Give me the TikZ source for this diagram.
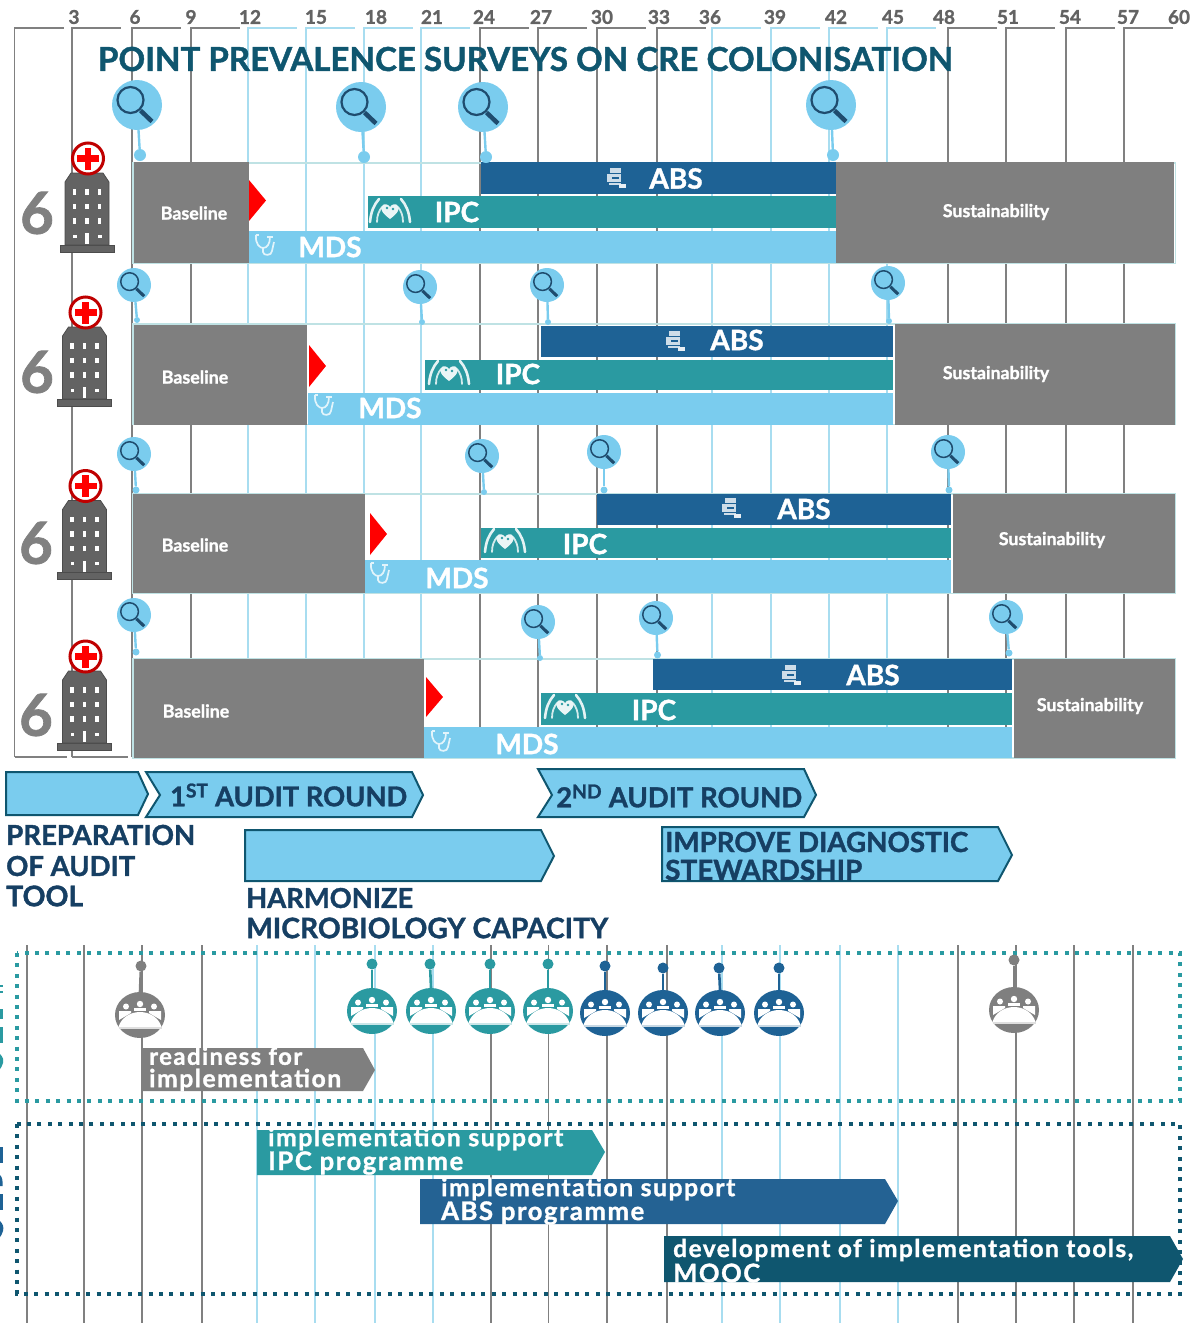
\documentclass[tikz,border=0pt]{standalone}
\usepackage{fontspec}
\usepackage{graphicx}
\setmainfont{Lato}[BoldFeatures={FakeBold=1.3}]
\newfontfamily\spaced{Lato}[LetterSpace=6,BoldFeatures={FakeBold=1.2}]
\usetikzlibrary{shapes.geometric}
\definecolor{lb}{HTML}{7ACCEE}
\definecolor{tl}{HTML}{2A9AA1}
\definecolor{nv}{HTML}{1E6295}
\definecolor{nv2}{HTML}{246293}
\definecolor{gy}{HTML}{7F7F7F}
\definecolor{dt}{HTML}{0F566F}
\definecolor{ink}{HTML}{163F63}
\definecolor{gl}{HTML}{A8DDF0}
\definecolor{gd}{HTML}{808080}
\definecolor{fr}{HTML}{BFE2E4}
\definecolor{bld}{HTML}{636363}
\definecolor{mg}{HTML}{1F4C6E}
\newcommand\fw[2]{\resizebox{#1pt}{!}{#2}}
\newcommand\mybar[5]{\fill[#5] (#1,#2) rectangle (#3,#4);}
\newcommand\tri[3]{\fill[red] (#1,#2) -- (#1+17,{(#2+#3)/2}) -- (#1,#3) -- cycle;}
\newcommand\hosp[2]{% bottom-centre of building
  \begin{scope}[shift={(#1,#2)}]
    \fill[bld,draw=black!70,line width=.8pt] (-27,-7) rectangle (27,0);
    \fill[bld,draw=black!70,line width=.8pt] (-22,-7) -- (-22,-70) -- (-16,-79) -- (16,-79) -- (22,-70) -- (22,-7) -- cycle;
    \foreach \wx in {-12.5,0,12.5}{\foreach \wy in {-60,-45.5,-31}{\fill[white] (\wx-1.9,\wy-2.8) rectangle (\wx+1.9,\wy+2.8);}}
    \fill[white] (-14,-17.5) rectangle (-10.5,-14.5);
    \fill[white] (10.5,-17.5) rectangle (14.5,-14.5);
    \fill[white] (-1.8,-19) rectangle (1.8,-8);
    \draw[red!75!black,fill=white,line width=3pt] (1,-93.5) circle (15.5);
    \fill[red] (-2.2,-104.5) rectangle (4.2,-82.5);
    \fill[red] (-10,-96.7) rectangle (12,-90.3);
  \end{scope}
}
\newcommand\pill[2]{%
  \begin{scope}[shift={(#1,#2)}]
    \fill[white!78!nv] (-6,-10) rectangle (5,-5);
    \fill[white!78!nv] (-9,-4) rectangle (5,4);
    \fill[white!78!nv] (-7,5) rectangle (5,7);
    \fill[white!90!nv] (3,6) rectangle (10,10);
    \fill[nv] (-4,-1) rectangle (3,1);
  \end{scope}
}
\newcommand\hands[2]{%
  \begin{scope}[shift={(#1,#2)}]
    \draw[white!88!tl,line width=2.6pt,line cap=round] (-20,11) .. controls (-19,0) and (-16,-6) .. (-11,-12);
    \draw[white!88!tl,line width=2.6pt,line cap=round] (20,11) .. controls (19,0) and (16,-6) .. (11,-12);
    \draw[white!80!tl,line width=1.8pt,line cap=round] (-13,11) .. controls (-13,4) and (-11,0) .. (-8,-4);
    \draw[white!80!tl,line width=1.8pt,line cap=round] (13,11) .. controls (13,4) and (11,0) .. (8,-4);
    \fill[white!90!tl] (0,8) .. controls (-8,2) and (-10,-2) .. (-8,-5) .. controls (-6,-8) and (-2,-7) .. (0,-4) .. controls (2,-7) and (6,-8) .. (8,-5) .. controls (10,-2) and (8,2) .. (0,8) -- cycle;
    \fill[tl] (-3,-3) circle (1.3);\fill[tl] (3,-2) circle (1.3);
  \end{scope}
}
\newcommand\steth[2]{%
  \begin{scope}[shift={(#1,#2)}]
    \draw[white!78!lb,line width=1.7pt] (-10,-10) .. controls (-11,-1) and (-6,3) .. (-3,3) .. controls (1,3) and (4,-1) .. (4,-8);
    \draw[white!78!lb,line width=1.7pt] (-3,3) -- (-3,7) .. controls (-3,11) and (6,11) .. (6,6) -- (8,-3);
    \draw[white!78!lb,line width=1.7pt] (-10,-10) -- (-7,-10) (1,-8) -- (7,-8);
  \end{scope}
}
\newcommand\peo[6]{% name, x, y, colour, dot name, dot x/y
  \node[pcirc,fill=#4] (#1) at (#2,#3) {};
  \begin{scope}[shift={(#2,#3)}]
    \fill[white] (-21.5,12) .. controls (-19,3) and (-10,-3) .. (0,-3) .. controls (10,-3) and (19,3) .. (21.5,12) -- cycle;
    \fill[#4!25!white] (-21.5,12) rectangle (21.5,13.5);
    \fill[white] (-6,-7.5) rectangle (6,-4.5);
    \fill[white] (-21,-4) -- (-9,-4) -- (-9,-2) -- (-21,5) -- cycle;
    \fill[white] (21,-4) -- (9,-4) -- (9,-2) -- (21,5) -- cycle;
    \fill[white] (0,-11) circle (3.2);
    \fill[white] (-14,-8.5) circle (3);
    \fill[white] (14,-8.5) circle (3);
  \end{scope}
  \node[pdot,fill=#4] (#5) at (#6) {};
  \draw[#4,line width=2.6pt] (#5) -- (#1.north);
}
\tikzset{
  x=1pt,y=-1pt,
  magc/.style={circle,fill=lb,inner sep=0pt,draw=none},
  mdot/.style={circle,fill=lb,inner sep=0pt,draw=none},
  stem/.style={lb,line width=2.4pt},
  pcirc/.style={ellipse,minimum width=50pt,minimum height=46pt,inner sep=0pt,draw=none},
  pdot/.style={circle,minimum size=11pt,inner sep=0pt,draw=none},
  gridg/.style={gd,line width=1.2pt},
  gridl/.style={gl,line width=1.2pt},
  tick/.style={text=bld,font=\bfseries\fontsize{19}{19}\selectfont,inner sep=0pt},
  bt/.style={text=white,font=\fontsize{28}{28}\selectfont\bfseries,inner sep=0pt},
  sm/.style={text=white,font=\fontsize{17.8}{18}\selectfont\bfseries,inner sep=0pt},
  six/.style={text=gd,font=\fontsize{58}{58}\selectfont\bfseries,inner sep=0pt},
  arr/.style={fill=lb,draw=dt,line width=2pt,line join=miter},
  hd/.style={text=ink,font=\fontsize{28}{28}\selectfont\bfseries,inner sep=0pt,anchor=west},
  wt/.style={text=white,font=\spaced\fontsize{25}{25}\selectfont\bfseries,inner sep=0pt,anchor=west},
  dotbox/.style={line width=3.6pt,dash pattern=on 4pt off 6.4pt},
}
\begin{document}
\begin{tikzpicture}
\useasboundingbox (0,0) rectangle (1199,1323);
\clip (0,0) rectangle (1199,1323);
% --- top grid
\foreach \gx in {14.5,72,132,191,480,538,597,657,948,1006,1066,1124}{
  \draw[gridg] (\gx,757) -- (\gx,28) -- (\gx+49,28);}
\foreach \gx in {248,306,364,421,712,771,829,887}{
  \draw[gridl] (\gx,757) -- (\gx,28) -- (\gx+49,28);}
\draw[gridg] (14.5,757) -- (67,757) (72,757) -- (128,757);
% tick labels
\foreach \nm/\tx/\lb in {a/74/3,b/135/6,c/191/9,d/250/12,e/316/15,f/376/18,g/432/21,h/484/24,i/541/27,j/602/30,k/659/33,l/710/36,m/775/39,n/836/42,o/893/45,p/944/48,q/1008/51,r/1070/54,s/1128/57,t/1179/60}{
  \node[tick] (tk\nm) at (\tx,17) {\lb};}
% title
\node[inner sep=0pt,text=dt,font=\fontsize{29}{29}\selectfont\bfseries] (title) at (525.5,59) {\fw{855}{POINT PREVALENCE SURVEYS ON CRE COLONISATION}};
% --- row frames
\draw[fr,line width=1.2pt] (133,163) rectangle (1175.5,263.5);
\draw[fr,line width=1.2pt] (133,324) rectangle (1175.5,424.5);
\draw[fr,line width=1.2pt] (133,494) rectangle (1175.5,593.5);
\draw[fr,line width=1.2pt] (133,659) rectangle (1175.5,758);
% --- row 1
\mybar{481}{162}{836}{194}{nv}
\mybar{368}{196}{836}{228}{tl}
\mybar{249}{231}{836}{262.5}{lb}
\mybar{134}{162}{249}{262.5}{gy}
\mybar{836}{162}{1174}{262.5}{gy}
\tri{249}{180}{221}
\node[sm] (ba1) at (194,213) {Baseline};
\node[sm] (su1) at (996,212) {Sustainability};
\node[bt] (ab1) at (676,178.5) {ABS};
\node[bt] (ip1) at (457,212) {IPC};
\node[bt] (md1) at (330,247) {MDS};
\pill{616}{178}\hands{390}{211}\steth{266}{245}
% --- row 2
\mybar{541}{325.5}{893}{357}{nv}
\mybar{425}{360}{893}{390}{tl}
\mybar{308}{392.5}{893}{424.5}{lb}
\mybar{134}{325}{307}{424.5}{gy}
\mybar{895}{324}{1175}{424.5}{gy}
\tri{309}{345}{387}
\node[sm] (ba2) at (195,377) {Baseline};
\node[sm] (su2) at (996,374) {Sustainability};
\node[bt] (ab2) at (737,340) {ABS};
\node[bt] (ip2) at (518,374) {IPC};
\node[bt] (md2) at (390,408) {MDS};
\pill{675}{341}\hands{449}{373}\steth{325}{405}
% --- row 3
\mybar{597}{494}{951}{525}{nv}
\mybar{481}{528}{951}{558}{tl}
\mybar{365}{560}{951}{592.5}{lb}
\mybar{133}{494}{365}{593}{gy}
\mybar{953}{493.5}{1175}{593}{gy}
\tri{370}{513}{555}
\node[sm] (ba3) at (195,545) {Baseline};
\node[sm] (su3) at (1052,540) {Sustainability};
\node[bt] (ab3) at (804,509) {ABS};
\node[bt] (ip3) at (585,544) {IPC};
\node[bt] (md3) at (457,578) {MDS};
\pill{731}{508}\hands{505}{541}\steth{381}{573}
% --- row 4
\mybar{653}{659}{1012}{690}{nv}
\mybar{541}{693}{1012}{725}{tl}
\mybar{424}{727}{1012}{758}{lb}
\mybar{134}{659}{424}{757.5}{gy}
\mybar{1014}{659}{1175}{757.5}{gy}
\tri{426}{677}{717}
\node[sm] (ba4) at (196,711) {Baseline};
\node[sm] (su4) at (1090,706) {Sustainability};
\node[bt] (ab4) at (873,675) {ABS};
\node[bt] (ip4) at (654,710) {IPC};
\node[bt] (md4) at (527,744) {MDS};
\pill{791}{675}\hands{565}{707}\steth{442}{741}
% --- survey markers
\foreach \nm/\mx/\my/\mr/\dx/\dy/\ds in {
 a/137/105/25/140/155/12, b/361/107/25/364/157/12, c/483/107/25/486/157/12, d/831/105/25/833/155/12,
 e/134/285/17/137/320/6, f/420/287/17/422/322/6, g/547/285/17/548/322/6, h/888/283/17/889/321/6,
 i/134/454/17/136/490/7, j/482/456/17/484/492/6, k/604/452/17/604/490/7, l/948/452/17/949/490/7,
 m/134/615/17/136/652/7, n/538/622/17/540/658/6, o/656/618/17/657.5/655/7, p/1006/617/17/1009/653/7}{
  \node[mdot,minimum size=\ds pt] (dt\nm) at (\dx,\dy) {};
  \node[magc,minimum size=2*\mr pt] (mg\nm) at (\mx,\my) {};
  \draw[stem] (mg\nm) -- (dt\nm);
  \begin{scope}[shift={(\mx,\my)},scale=\mr/25]
    \draw[mg,line width=\mr/25*2.2pt] (-6.5,-5) circle (13);
    \draw[mg,line width=\mr/25*4.5pt] (3.5,5.5) -- (15,16.5);
  \end{scope}
}
% --- hospitals
\node[six] (six1) at (37,213) {6};
\node[six] (six2) at (37,372) {6};
\node[six] (six3) at (36,543) {6};
\node[six] (six4) at (36,715) {6};
\hosp{87}{252}\hosp{84.5}{406}\hosp{84.5}{579.5}\hosp{84.5}{750}
% --- phase arrows
\draw[arr] (6,772) -- (138,772) -- (148,794) -- (138,815) -- (6,815) -- cycle;
\draw[arr] (146,772) -- (412,772) -- (423,795) -- (412,817) -- (146,817) -- (160,795) -- cycle;
\draw[arr] (538,769) -- (804,769) -- (816,795) -- (804,817) -- (538,817) -- (552,795) -- cycle;
\draw[arr] (245,830) -- (541,830) -- (554,856) -- (541,881) -- (245,881) -- cycle;
\draw[arr] (662,827) -- (998,827) -- (1012,855) -- (998,881) -- (662,881) -- cycle;
\node[hd] (r1) at (170,795) {\fw{237}{1\textsuperscript{ST} AUDIT ROUND}};
\node[hd] (r2) at (556,796) {\fw{246}{2\textsuperscript{ND} AUDIT ROUND}};
\node[hd] (pr1) at (6,835) {\fw{189}{PREPARATION}};
\node[hd] (pr2) at (6,866) {\fw{129}{OF AUDIT}};
\node[hd] (pr3) at (6,896) {\fw{77}{TOOL}};
\node[hd] (ha1) at (246,898) {\fw{167}{HARMONIZE}};
\node[hd] (ha2) at (246,928) {\fw{362}{MICROBIOLOGY CAPACITY}};
\node[hd] (im1) at (665,842) {\fw{303}{IMPROVE DIAGNOSTIC}};
\node[hd] (im2) at (665,870) {\fw{197}{STEWARDSHIP}};
% --- bottom grid
\foreach \gx in {27,84,142,202,491,548.5,607,667,958,1016,1074,1133}{
  \draw[gridg] (\gx,945) -- (\gx,1323);}
\foreach \gx in {257,315,375,433,722,780,840,898}{
  \draw[gridl] (\gx,945) -- (\gx,1323);}
% --- dotted boxes
\draw[tl,dotbox] (17,953) rectangle (1180,1101);
\draw[dt,dotbox] (17,1124) rectangle (1180,1294);
% slivers at the left edge
\fill[tl] (0,985) rectangle (3,987);\fill[tl] (0,991) rectangle (3,993);
\fill[tl] (0,1009) rectangle (2.5,1019);
\fill[tl] (0,1027) rectangle (2.5,1043);
\fill[tl] (0,1054) .. controls (3,1057) and (4,1060) .. (3,1063) .. controls (2,1066) and (1,1068) .. (0,1069) -- cycle;
\fill[nv] (0,1147) rectangle (2.5,1163);
\fill[nv] (0,1175) .. controls (2,1177) and (3,1180) .. (2.5,1186) -- (0,1186) -- cycle;
\fill[nv] (0,1194) rectangle (2.5,1210);
\fill[nv] (0,1221) .. controls (3,1224) and (4,1227) .. (3,1231) .. controls (2,1234) and (1,1236) .. (0,1237) -- cycle;
% --- people circles
\peo{pa1}{140}{1015}{gy}{pd1}{141,966}
\peo{pb1}{372}{1011}{tl}{pd2}{372,964}
\peo{pb2}{431}{1011}{tl}{pd3}{430,964}
\peo{pb3}{490}{1011}{tl}{pd4}{490,964}
\peo{pb4}{548}{1011}{tl}{pd5}{548,964}
\peo{pc1}{605}{1013}{nv}{pd6}{605,966}
\peo{pc2}{663}{1013}{nv}{pd7}{663,968}
\peo{pc3}{720}{1013}{nv}{pd8}{719,968}
\peo{pc4}{779}{1013}{nv}{pd9}{779,968}
\peo{pa2}{1014}{1010}{gy}{pd10}{1014,960}
% --- activity arrows
\fill[gy] (142,1048) -- (363,1048) -- (375,1070) -- (363,1091) -- (142,1091) -- cycle;
\fill[tl] (257,1130) -- (592,1130) -- (605,1152) -- (592,1175) -- (257,1175) -- cycle;
\fill[nv2] (420,1179) -- (885,1179) -- (898,1201) -- (885,1224) -- (420,1224) -- cycle;
\fill[dt] (664,1236) -- (1170,1236) -- (1183,1259) -- (1170,1282) -- (664,1282) -- cycle;
\node[wt] (w1) at (149,1056) {\fw{153}{readiness for}};
\node[wt] (w2) at (149,1080) {\fw{192}{implementation}};
\node[wt] (w3) at (268,1139) {\fw{295}{implementation support}};
\node[wt] (w4) at (268,1163) {\fw{195}{IPC programme}};
\node[wt] (w5) at (441,1189) {\fw{294}{implementation support}};
\node[wt] (w6) at (441,1213) {\fw{203}{ABS programme}};
\node[wt] (w7) at (673,1250) {\fw{460}{development of implementation tools,}};
\node[wt] (w8) at (673,1273) {\fw{87}{MOOC}};
\end{tikzpicture}
\end{document}
